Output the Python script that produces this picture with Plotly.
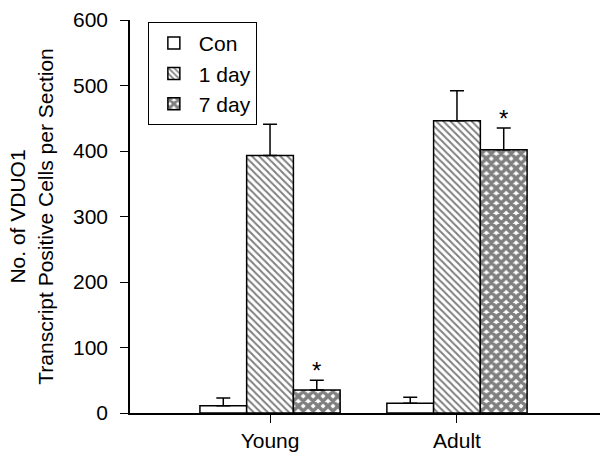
import plotly.graph_objects as go

categories = ["Young", "Adult"]
series_names = ["Con", "1 day", "7 day"]
con_vals = [11, 15]
con_err = [12, 9]
day1_vals = [393, 446]
day1_err = [48, 46]
day7_vals = [35, 402]
day7_err = [15, 33]
yticks = [0, 100, 200, 300, 400, 500, 600]

xpos = list(range(len(categories)))
font = dict(family="Liberation Sans, Arial, sans-serif", size=21, color="black")

fig = go.Figure()
patterns = [dict(shape=""), dict(shape="\\", size=5, solidity=0.4, fgcolor="black", bgcolor="white"),
            dict(shape="x", size=7, solidity=0.75, fgcolor="black", bgcolor="white")]
vals = [con_vals, day1_vals, day7_vals]
errs = [con_err, day1_err, day7_err]
for name, v, e, p in zip(series_names, vals, errs, patterns):
    fig.add_trace(go.Bar(
        x=xpos, y=v, name=name,
        marker=dict(color="white", line=dict(color="black", width=1.5), pattern=p),
        error_y=dict(type="data", array=e, symmetric=False, arrayminus=[0]*len(e),
                     color="black", thickness=1.5, width=7),
    ))

bargap = 0.25
bw = (1 - bargap) / 3
for i, (v, e) in enumerate(zip(day7_vals, day7_err)):
    fig.add_annotation(x=xpos[i] + bw, y=v + e, text="*", showarrow=False,
                       yanchor="bottom", yshift=-6, font=dict(size=24, color="black"))

fig.update_layout(
    width=604, height=459,
    margin=dict(l=130, r=4, t=20, b=46, autoexpand=False),
    paper_bgcolor="white", plot_bgcolor="white",
    barmode="group", bargap=bargap, bargroupgap=0,
    font=font,
    showlegend=True,
    legend=dict(x=0.038, y=0.995, xanchor="left", yanchor="top",
                bordercolor="black", borderwidth=1, bgcolor="white",
                font=font, tracegroupgap=0, itemwidth=40),
    xaxis=dict(range=[-0.749, 1.765], tickvals=xpos, ticktext=categories,
               showline=True, linecolor="black", linewidth=1.5,
               ticks="outside", ticklen=8, tickcolor="black", showgrid=False,
               zeroline=False, tickfont=font, automargin=False),
    yaxis=dict(range=[0, 600], tickvals=yticks, showline=True, linecolor="black",
               linewidth=1.5, ticks="outside", ticklen=8, tickcolor="black",
               showgrid=False, zeroline=False, tickfont=font, automargin=False,
               ticklabelstandoff=8,
               title=dict(text="No. of VDUO1<br>Transcript Positive Cells per Section",
                          font=font, standoff=14)),
)
fig.write_html("out.html", config={"displayModeBar": False},
               post_script="document.body.style.margin='0';document.body.style.overflow='hidden';")
